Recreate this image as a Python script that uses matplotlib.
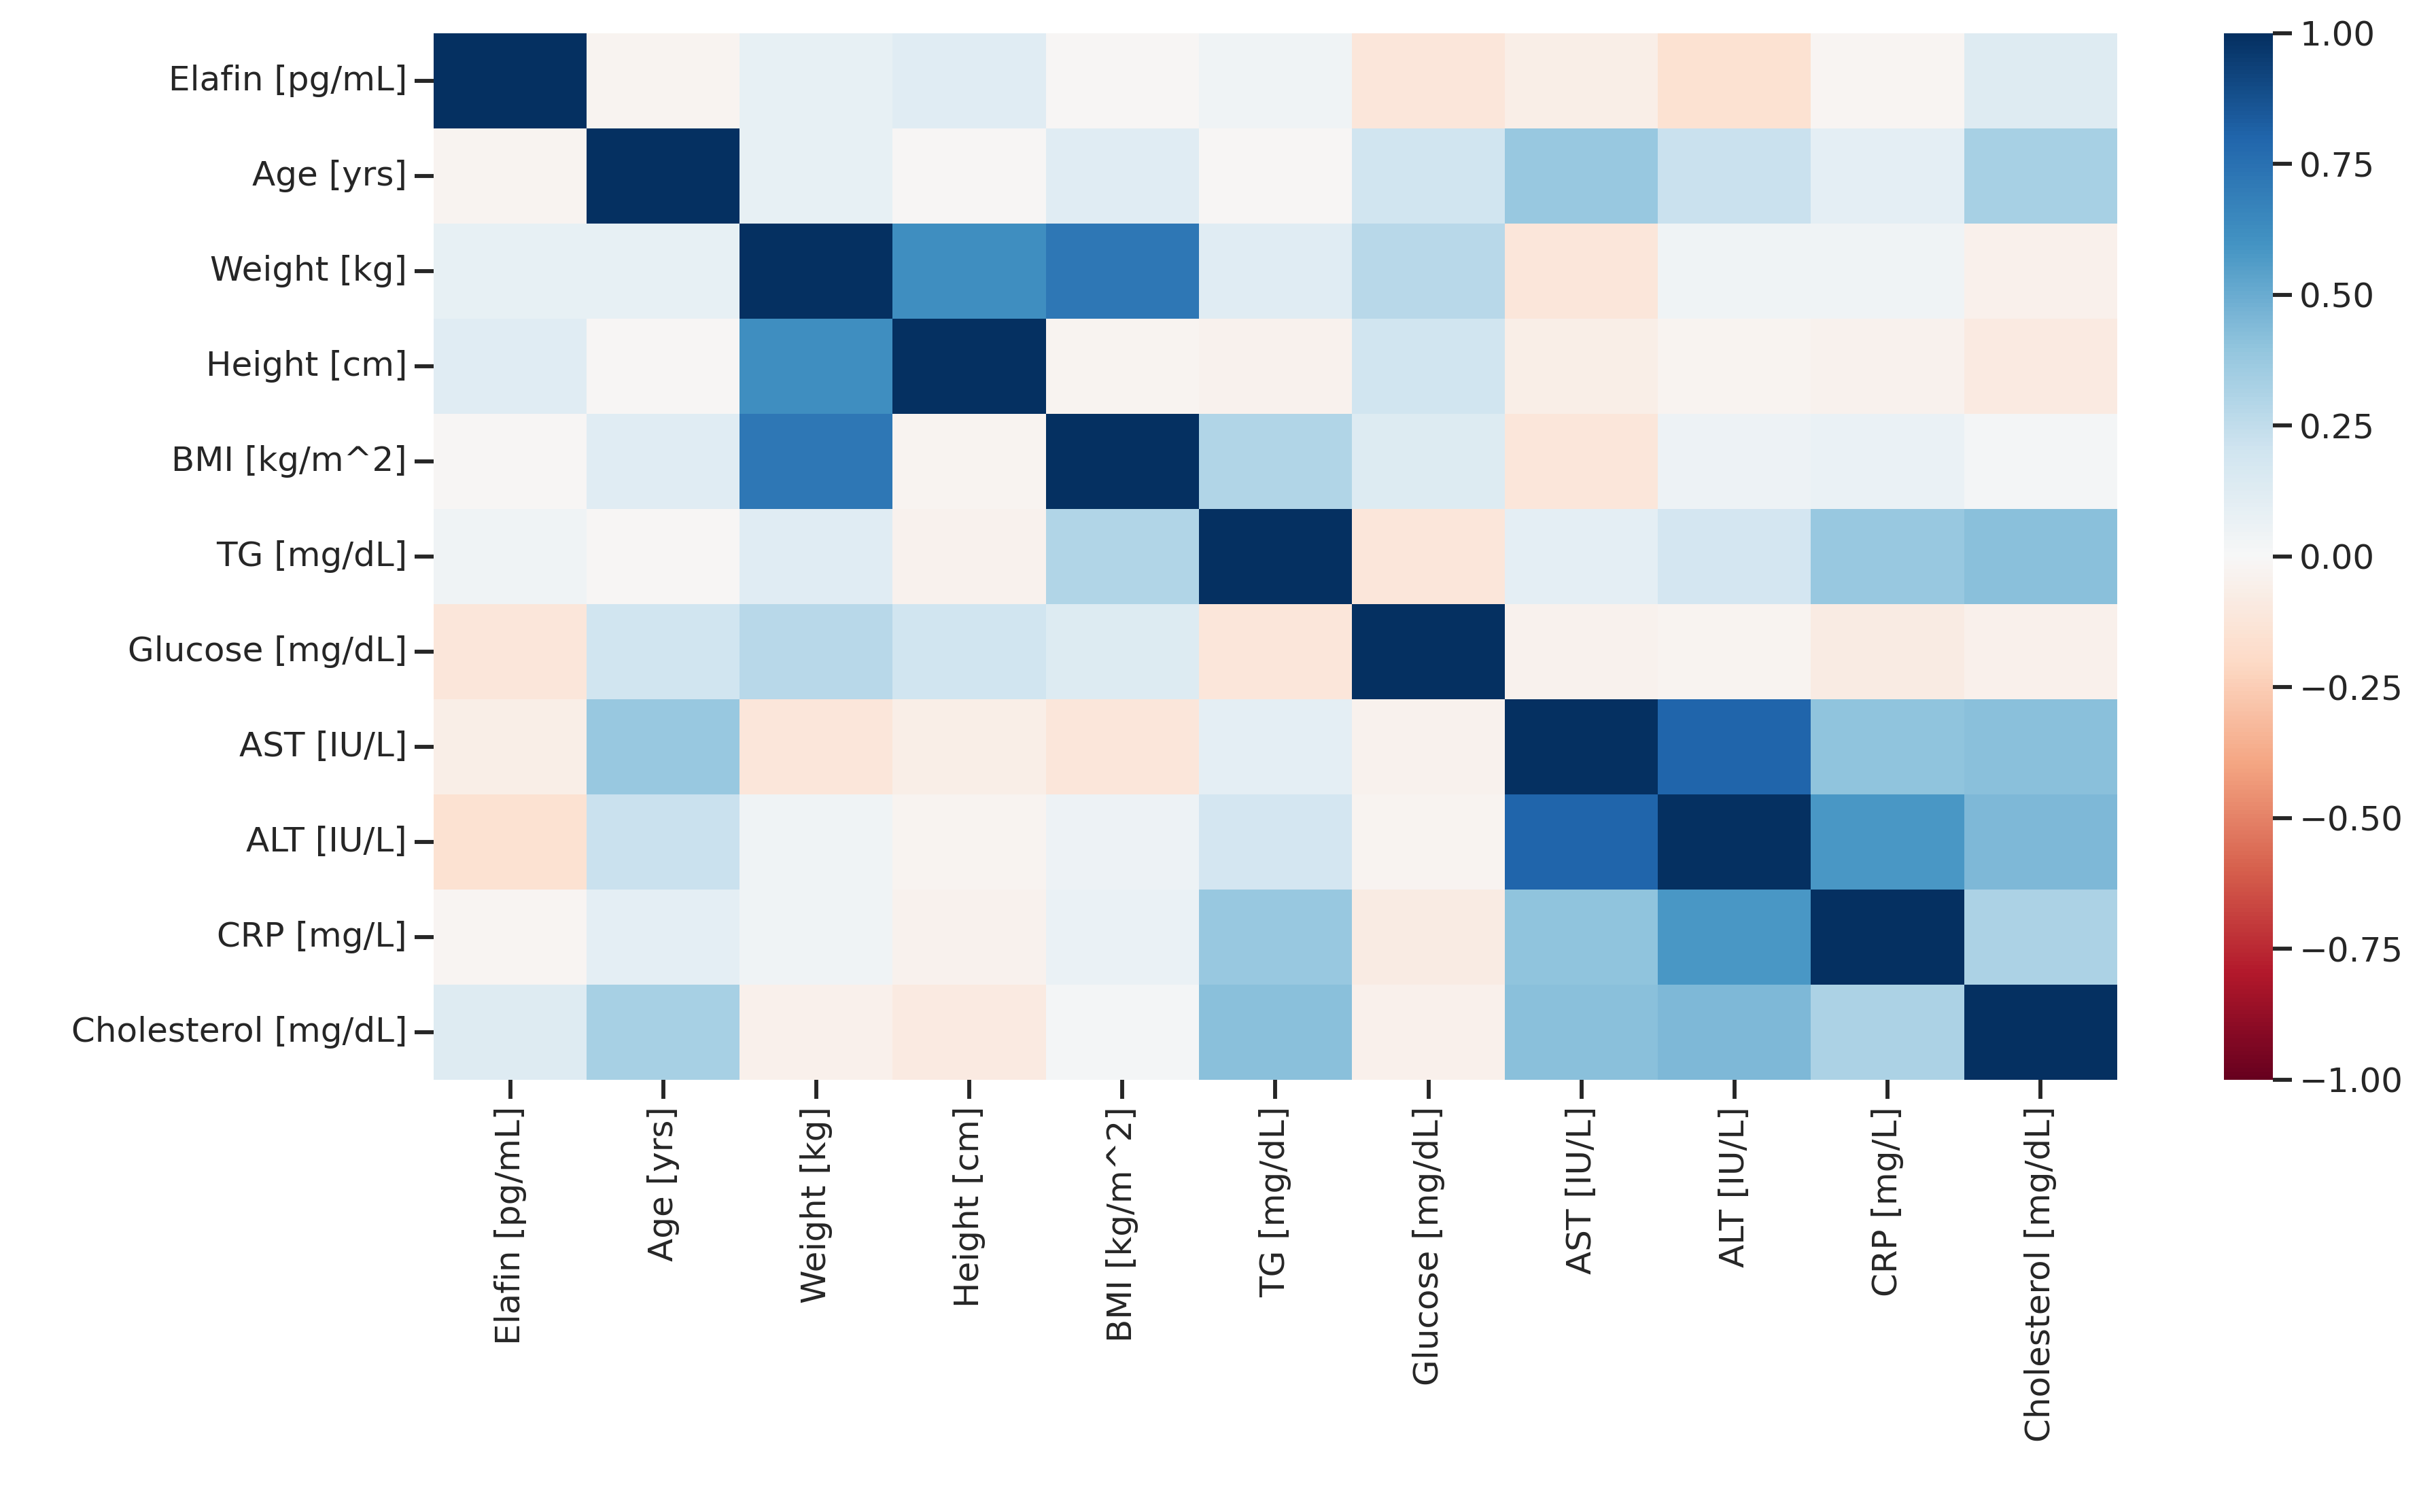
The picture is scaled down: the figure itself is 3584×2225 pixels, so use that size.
import matplotlib
matplotlib.use("Agg")
import matplotlib.pyplot as plt
import seaborn as sns
import numpy as np
import pandas as pd

labels = ["Elafin [pg/mL]", "Age [yrs]", "Weight [kg]", "Height [cm]", "BMI [kg/m^2]",
          "TG [mg/dL]", "Glucose [mg/dL]", "AST [IU/L]", "ALT [IU/L]", "CRP [mg/L]",
          "Cholesterol [mg/dL]"]

corr = np.array([
    [1.00, -0.03, 0.08, 0.12, -0.01, 0.04, -0.12, -0.07, -0.15, -0.02, 0.13],
    [-0.03, 1.00, 0.08, -0.01, 0.12, -0.01, 0.20, 0.38, 0.22, 0.10, 0.33],
    [0.08, 0.08, 1.00, 0.62, 0.72, 0.12, 0.28, -0.12, 0.04, 0.04, -0.05],
    [0.12, -0.01, 0.62, 1.00, -0.03, -0.04, 0.20, -0.07, -0.03, -0.04, -0.09],
    [-0.01, 0.12, 0.72, -0.03, 1.00, 0.30, 0.14, -0.12, 0.05, 0.07, 0.02],
    [0.04, -0.01, 0.12, -0.04, 0.30, 1.00, -0.12, 0.10, 0.18, 0.38, 0.42],
    [-0.12, 0.20, 0.28, 0.20, 0.14, -0.12, 1.00, -0.04, -0.03, -0.08, -0.05],
    [-0.07, 0.38, -0.12, -0.07, -0.12, 0.10, -0.04, 1.00, 0.80, 0.40, 0.42],
    [-0.15, 0.22, 0.04, -0.03, 0.05, 0.18, -0.03, 0.80, 1.00, 0.58, 0.45],
    [-0.02, 0.10, 0.04, -0.04, 0.07, 0.38, -0.08, 0.40, 0.58, 1.00, 0.32],
    [0.13, 0.33, -0.05, -0.09, 0.02, 0.42, -0.05, 0.42, 0.45, 0.32, 1.00],
])

df = pd.DataFrame(corr, index=labels, columns=labels)

sns.set_theme(style="ticks", context="talk")
fig = plt.figure(figsize=(15.93, 9.89), dpi=225)
ax = fig.add_axes([0.178, 0.286, 0.691, 0.692])
cax = fig.add_axes([0.913, 0.286, 0.020, 0.692])
sns.heatmap(df, cmap="RdBu", vmin=-1, vmax=1, ax=ax, cbar_ax=cax)
ax.tick_params(axis="both", labelsize=16)
cax.tick_params(labelsize=16)
cax.set_yticks([-1, -0.75, -0.5, -0.25, 0, 0.25, 0.5, 0.75, 1])
cax.set_yticklabels(["\u22121.00", "\u22120.75", "\u22120.50", "\u22120.25", "0.00",
                     "0.25", "0.50", "0.75", "1.00"])
plt.setp(ax.get_xticklabels(), rotation=90)
plt.setp(ax.get_yticklabels(), rotation=0)
fig.savefig("out.png", dpi=225)
